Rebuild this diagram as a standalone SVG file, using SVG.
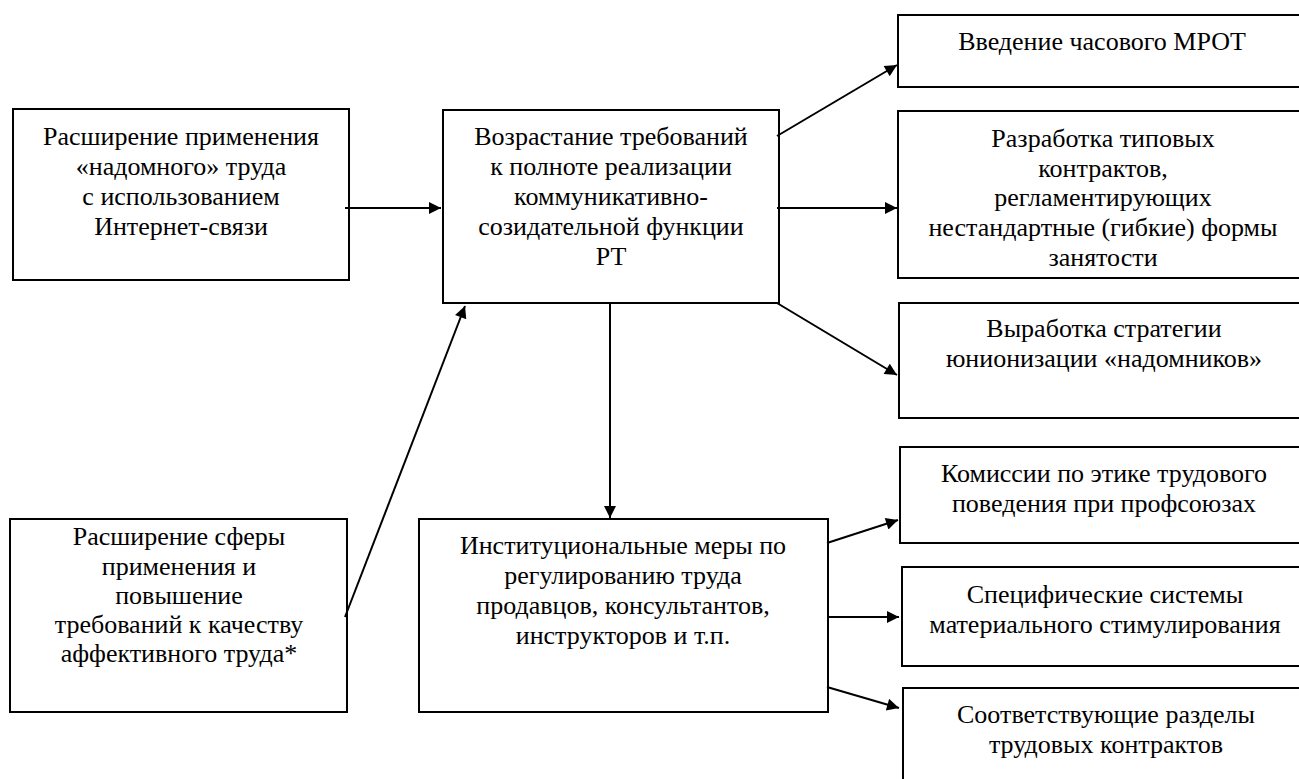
<svg xmlns="http://www.w3.org/2000/svg" width="1299" height="779" viewBox="0 0 1299 779">
<defs>
<marker id="ah" viewBox="0 0 10 10" refX="10" refY="5" markerWidth="7.5" markerHeight="6" markerUnits="strokeWidth" orient="auto">
<path d="M0,0 L10,5 L0,10 Z" fill="#000"/>
</marker>
<style>
.box{fill:#fff;stroke:#000;stroke-width:2}
.t{font-family:'Liberation Serif','DejaVu Serif',serif;font-size:26px;fill:#000;text-anchor:middle}
.c{stroke:#000;stroke-width:2;fill:none;marker-end:url(#ah)}
</style>
</defs>
<rect width="1299" height="779" fill="#fff"/>
<g id="n1"><rect class="box" x="13" y="109" width="336" height="171"/>
<text class="t" font-family="Liberation Serif, serif"><tspan x="181" y="145">Расширение применения</tspan><tspan x="181" y="175">«надомного» труда</tspan><tspan x="181" y="205">с использованием</tspan><tspan x="181" y="235">Интернет-связи</tspan></text></g>
<g id="n2"><rect class="box" x="443" y="110" width="336" height="193"/>
<text class="t"><tspan x="611" y="145">Возрастание требований</tspan><tspan x="611" y="175">к полноте реализации</tspan><tspan x="611" y="205">коммуникативно-</tspan><tspan x="611" y="235">созидательной функции</tspan><tspan x="611" y="265">РТ</tspan></text></g>
<g id="n3"><rect class="box" x="10" y="519" width="337" height="193"/>
<text class="t"><tspan x="179" y="545">Расширение сферы</tspan><tspan x="179" y="575">применения и</tspan><tspan x="179" y="604">повышение</tspan><tspan x="179" y="633">требований к качеству</tspan><tspan x="179" y="662">аффективного труда*</tspan></text></g>
<g id="n4"><rect class="box" x="419" y="519" width="409" height="193"/>
<text class="t"><tspan x="623" y="554">Институциональные меры по</tspan><tspan x="623" y="584">регулированию труда</tspan><tspan x="623" y="614">продавцов, консультантов,</tspan><tspan x="623" y="644">инструкторов и т.п.</tspan></text></g>
<g id="r1"><rect class="box" x="898" y="15" width="420" height="72"/>
<text class="t" x="1102" y="50">Введение часового МРОТ</text></g>
<g id="r2"><rect class="box" x="898" y="111" width="420" height="167"/>
<text class="t"><tspan x="1103" y="147">Разработка типовых</tspan><tspan x="1103" y="177">контрактов,</tspan><tspan x="1103" y="206">регламентирующих</tspan><tspan x="1103" y="236">нестандартные (гибкие) формы</tspan><tspan x="1103" y="266">занятости</tspan></text></g>
<g id="r3"><rect class="box" x="899" y="303" width="420" height="115"/>
<text class="t"><tspan x="1104" y="337">Выработка стратегии</tspan><tspan x="1104" y="367">юнионизации «надомников»</tspan></text></g>
<g id="r4"><rect class="box" x="900" y="447" width="420" height="96"/>
<text class="t"><tspan x="1104" y="482">Комиссии по этике трудового</tspan><tspan x="1104" y="512">поведения при профсоюзах</tspan></text></g>
<g id="r5"><rect class="box" x="902" y="567" width="420" height="99"/>
<text class="t"><tspan x="1105" y="603">Специфические системы</tspan><tspan x="1105" y="633">материального стимулирования</tspan></text></g>
<g id="r6"><rect class="box" x="903" y="688" width="420" height="120"/>
<text class="t"><tspan x="1106" y="723">Соответствующие разделы</tspan><tspan x="1106" y="753">трудовых контрактов</tspan></text></g>
<g id="connectors">
<line class="c" x1="345" y1="208" x2="441" y2="208"/>
<line class="c" x1="345" y1="617" x2="465" y2="306"/>
<line class="c" x1="777" y1="136" x2="897" y2="65"/>
<line class="c" x1="777" y1="208" x2="897" y2="208"/>
<line class="c" x1="777" y1="303" x2="897" y2="375"/>
<line class="c" x1="610" y1="303" x2="610" y2="518"/>
<line class="c" x1="827" y1="543" x2="898" y2="520"/>
<line class="c" x1="827" y1="617" x2="899" y2="617"/>
<line class="c" x1="827" y1="687" x2="899" y2="708"/>
</g>
</svg>
